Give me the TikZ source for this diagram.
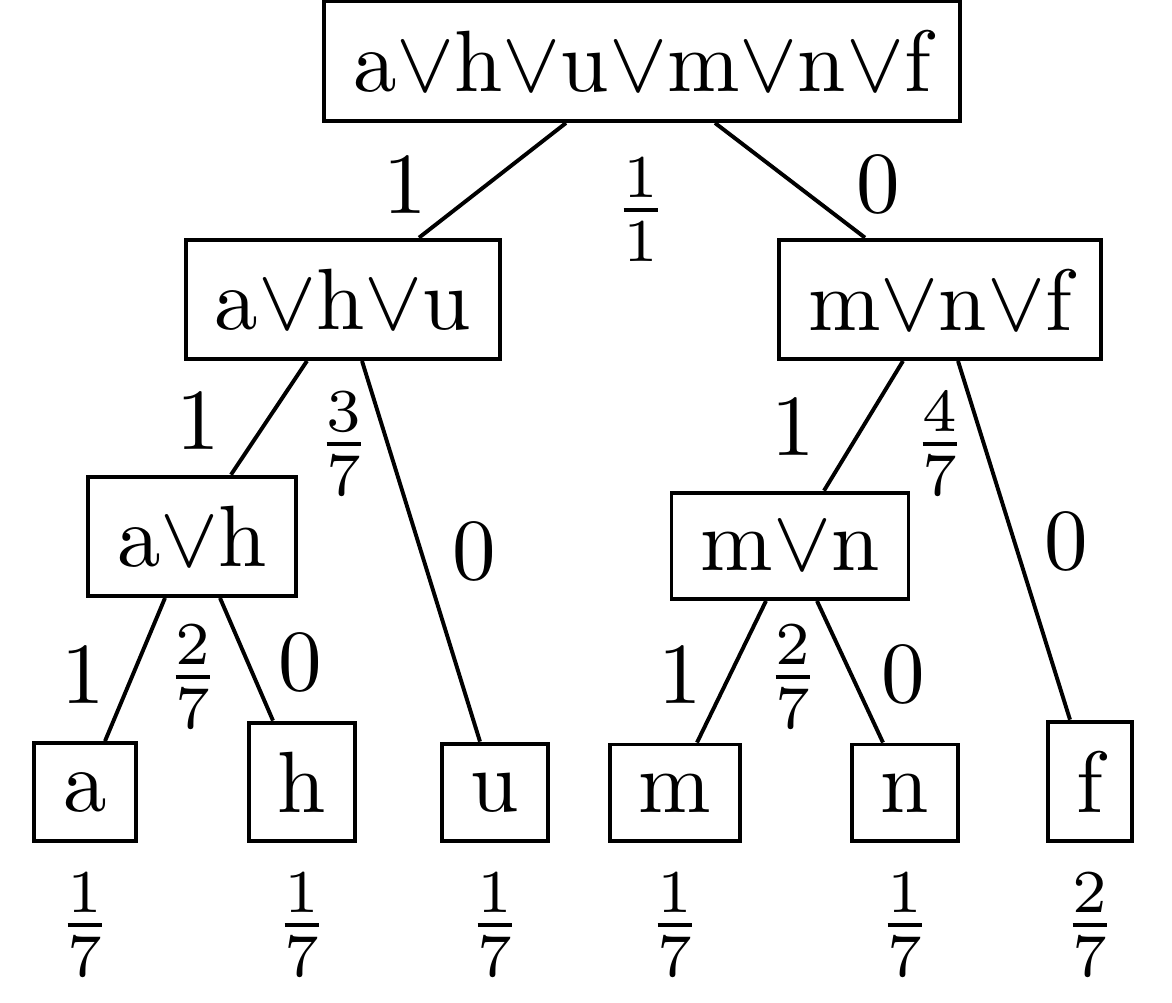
\documentclass[tikz,border=0pt]{standalone}
\usetikzlibrary{calc}
\begin{document}
\begin{tikzpicture}[x=0.1149pt, y=-0.1149pt, line width=0.45pt, knoten/.style={draw, anchor=south}]
    			\useasboundingbox (0,0) rectangle (1172,1003);
    			% knoten
    			\node [knoten] (ahumnf) at (642,123) {a$\vee$h$\vee$u$\vee$m$\vee$n$\vee$f};
    			\node [knoten] (ahu) at (343,361) {a$\vee$h$\vee$u};
    			\node [knoten] (mnf) at (940,361) {m$\vee$n$\vee$f};
    			\node [knoten] (ah) at (192,598) {a$\vee$h};
    			\node [knoten] (mn) at (790,601) {m$\vee$n};
    			\node [knoten] (a) at (85,843) {a};
    			\node [knoten] (h) at (302,843) {h};
    			\node [knoten] (u) at (495,843) {u};
    			\node [knoten] (m) at (675,843) {m};
    			\node [knoten] (n) at (905,843) {n};
    			\node [knoten] (f) at (1090,843) {f};
    			
    			% kanten
    			\draw ($(ahumnf.south)+(-76,0)$) -- ($(ahu.north)+(76,0)$);
    			\draw ($(ahumnf.south)+(73,0)$) -- ($(mnf.north)+(-75,0)$);
    			\draw ($(ahu.south)+(-36,0)$) -- ($(ah.north)+(39,0)$);
    			\draw ($(ahu.south)+(19,0)$) -- ($(u.north)+(-15,0)$);
    			\draw ($(ah.south)+(-27,0)$) -- ($(a.north)+(20,0)$);
    			\draw ($(ah.south)+(28,0)$) -- ($(h.north)+(-29,0)$);
    			\draw ($(mnf.south)+(-37,0)$) -- ($(mn.north)+(34,0)$);
    			\draw ($(mnf.south)+(18,0)$) -- ($(f.north)+(-20,0)$);
    			\draw ($(mn.south)+(-24,0)$) -- ($(m.north)+(22,0)$);
    			\draw ($(mn.south)+(27,0)$) -- ($(n.north)+(-22,0)$);
    			
    			% beschriftung
    			\node (l1) at (405,185) {1};
    			\node (r1) at (878,185) {0};
    			\node (p1) at (641,210) {$\frac{1}{1}$};
    			\node (l2) at (198,421) {1};
    			\node (p2) at (344,444) {$\frac{3}{7}$};
    			\node (r2) at (474,552) {0};
    			\node (l3) at (793,427) {1};
    			\node (p3) at (940,444) {$\frac{4}{7}$};
    			\node (r3) at (1066,542) {0};
    			\node (l4) at (83,675) {1};
    			\node (p4) at (193,677) {$\frac{2}{7}$};
    			\node (r4) at (300,662) {0};
    			\node (l5) at (680,675) {1};
    			\node (p5) at (793,677) {$\frac{2}{7}$};
    			\node (r5) at (903,675) {0};
    			\node (pa) at (85,925) {$\frac{1}{7}$};
    			\node (ph) at (302,925) {$\frac{1}{7}$};
    			\node (pu) at (495,925) {$\frac{1}{7}$};
    			\node (pm) at (675,925) {$\frac{1}{7}$};
    			\node (pn) at (905,925) {$\frac{1}{7}$};
    			\node (pf) at (1090,925) {$\frac{2}{7}$};
    			\end{tikzpicture}
\end{document}
